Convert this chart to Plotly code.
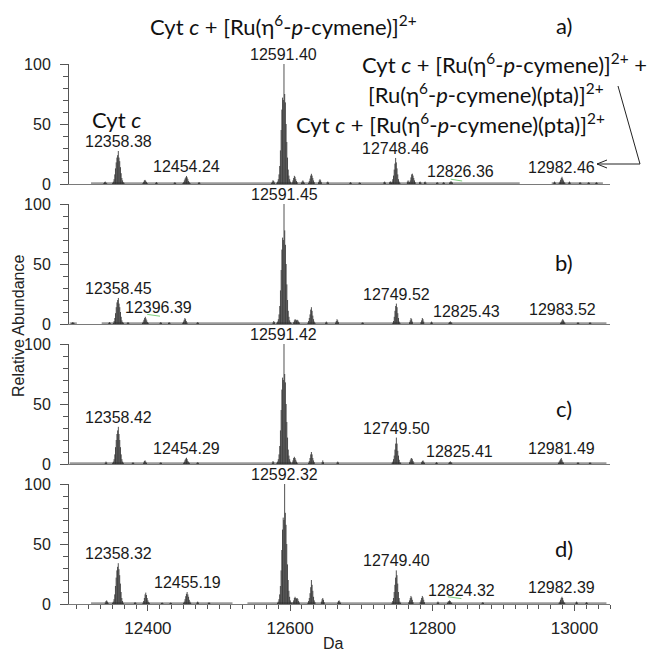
import plotly.graph_objects as go

# ---------------------------------------------------------------------------
# Deconvoluted ESI-MS spectra of cytochrome c incubated with Ru(II) arene
# complexes. Each cluster: (mass of first isotope stick, stick heights); the
# isotope sticks are 1 Da apart.
# ---------------------------------------------------------------------------
ISOTOPE_STEP = 1.0

clusters_a = [
    (12338.0, [0.8, 1.5, 2.0, 1.2, 0.6]),
    (12350.38, [1, 2, 4, 8, 13, 18, 22, 24, 27.5, 22, 19, 14, 9, 5, 3, 1.5, 1]),
    (12393.0, [0.8, 1.8, 3.0, 3.4, 2.6, 1.6, 0.8]),
    (12411.0, [1.0, 1.6, 1.0]),
    (12437.0, [1.0, 1.5, 0.8]),
    (12449.24, [0.8, 1.5, 3, 4.5, 5.5, 6.7, 5.5, 4, 2.5, 1.5, 0.8]),
    (12471.0, [1.0, 1.6, 1.0]),
    (12574.0, [1.0, 2.0, 3.2, 2.5, 1.2]),
    (12581.40, [1, 2, 4, 8, 15, 28, 45, 62, 72, 70, 100, 75, 68, 50, 35, 22, 12, 7, 4, 2, 1]),
    (12603.0, [1.5, 3, 5, 6.8, 6, 4, 2.5, 1.5]),
    (12616.0, [1.2, 2.2, 3.0, 2.0, 1.0]),
    (12626.0, [1, 2.5, 4.5, 7, 8.5, 7, 5, 3, 1.5]),
    (12640.0, [1.5, 3, 4, 3, 1.5]),
    (12652.0, [1.5, 2.0, 1.2]),
    (12684.0, [1.0, 1.5, 1.0]),
    (12697.0, [1.0, 1.3, 0.8]),
    (12732.0, [1.5, 2.0, 1.2]),
    (12740.0, [1.5, 2.2, 1.5]),
    (12742.46, [1, 2, 4, 7, 12, 17, 21.7, 18, 13, 8, 4, 2, 1]),
    (12765.0, [2.0, 3.0, 2.0]),
    (12768.0, [1.5, 3, 5.5, 8, 8.6, 7, 5, 3, 1.5]),
    (12782.0, [1.5, 2.0, 1.2]),
    (12789.0, [1.5, 2.0, 1.2]),
    (12806.0, [1.0, 1.5, 1.0]),
    (12815.0, [1.0, 1.5, 1.0]),
    (12824.36, [1.2, 1.8, 2.3, 1.8, 1.2]),
    (12971.0, [1.2, 2.0, 1.2]),
    (12978.46, [1, 2, 3.5, 5, 6, 4.5, 3, 1.8, 1]),
    (12992.0, [1.2, 2.0, 1.2]),
    (13007.0, [1.0, 1.5, 1.0]),
    (13019.0, [1.0, 1.5, 1.0]),
    (13030.0, [1.0, 1.4, 1.0]),
]

clusters_b = [
    (12293.0, [1.0, 1.4, 1.2, 1.0]),
    (12345.0, [1.0, 1.5, 1.0]),
    (12351.45, [1, 2.5, 5, 9, 14, 18, 20, 21.7, 17, 14, 10, 6, 3, 1.5, 1]),
    (12371.0, [1.0, 1.5, 1.0]),
    (12392.39, [1, 2, 3.5, 5, 6, 4.5, 3, 1.5, 1]),
    (12417.0, [1.0, 1.5, 1.0]),
    (12429.0, [1.0, 1.4, 1.0]),
    (12449.0, [1, 2, 3.5, 5, 4, 2.5, 1.2]),
    (12469.0, [1.0, 1.5, 1.0]),
    (12576.0, [1.2, 2.5, 1.5]),
    (12581.45, [1, 2, 4, 8, 15, 28, 45, 62, 72, 70, 100, 78, 66, 50, 33, 20, 11, 6, 3, 1.5, 1]),
    (12605.0, [1.5, 3, 4, 3.5, 3, 3.5, 3, 2, 1.2]),
    (12625.0, [1, 2.5, 5, 8, 12, 14, 11, 7, 4, 2, 1]),
    (12650.0, [1.2, 2.0, 1.2]),
    (12664.0, [1.2, 2.5, 4, 3, 1.5]),
    (12701.0, [1.0, 1.3, 1.0]),
    (12744.52, [1, 2.5, 6, 11, 15, 17, 14, 9, 5, 2, 1]),
    (12768.0, [1.5, 3, 5, 4, 2]),
    (12784.0, [1.5, 3, 5, 4, 2]),
    (12798.0, [1.2, 2.0, 1.2]),
    (12823.43, [1, 1.6, 2.2, 1.6, 1]),
    (12980.52, [1, 2, 3, 4, 3, 2, 1]),
    (13004.0, [1.0, 1.4, 1.0]),
    (13021.0, [1.0, 1.4, 1.0]),
]

clusters_c = [
    (12340.0, [1.0, 2.0, 1.2]),
    (12350.42, [1, 2, 4, 8, 14, 20, 25, 28, 31, 25, 20, 14, 8, 4, 2, 1]),
    (12378.0, [1.0, 1.3, 1.0]),
    (12394.0, [1.2, 2.5, 3, 2, 1]),
    (12417.0, [1.0, 1.3, 1.0]),
    (12450.29, [1, 2, 3.5, 4.5, 5.2, 4, 2.5, 1.5, 1]),
    (12469.0, [1.0, 1.4, 1.0]),
    (12575.0, [1.2, 2.5, 1.5]),
    (12581.42, [1, 2, 4, 8, 15, 28, 45, 62, 72, 70, 100, 75, 68, 50, 35, 22, 12, 7, 4, 2, 1]),
    (12603.0, [1.5, 3, 5, 6, 5, 3.5, 2, 1]),
    (12626.0, [1, 2.5, 5, 8, 10, 8, 5, 3, 1.5]),
    (12645.0, [1.5, 3.0, 1.5]),
    (12666.0, [1.2, 2.0, 1.2]),
    (12743.50, [1, 2, 4, 7, 12, 17, 22, 17, 11, 7, 3.5, 1.5, 1]),
    (12768.0, [1.5, 3, 4.5, 5, 4, 2.5, 1.2]),
    (12785.0, [1.5, 2.5, 3, 2, 1]),
    (12805.0, [1.0, 1.5, 1.0]),
    (12823.41, [1, 1.6, 2.2, 1.6, 1]),
    (12977.49, [1, 2, 3, 4, 5, 3.5, 2, 1.2]),
    (13004.0, [1.0, 1.4, 1.0]),
    (13021.0, [1.0, 1.3, 1.0]),
]

clusters_d = [
    (12340.0, [1.2, 2.5, 3, 2, 1]),
    (12350.32, [1, 2, 4, 8, 15, 22, 28, 31, 34, 29, 24, 17, 10, 5, 2.5, 1]),
    (12381.0, [1.0, 1.5, 1.0]),
    (12393.0, [1, 2.5, 5, 8, 9.5, 7.5, 5, 3, 1.5, 1]),
    (12419.0, [0.8, 1.2, 0.8]),
    (12431.0, [0.8, 1.2, 0.8]),
    (12450.19, [1, 2, 4, 6.5, 8.5, 10, 8, 6, 3.5, 2, 1]),
    (12469.0, [1.2, 2.0, 1.2]),
    (12485.0, [1.0, 1.3, 1.0]),
    (12582.32, [1, 2, 4, 8, 15, 28, 45, 62, 72, 70, 100, 76, 66, 50, 33, 20, 11, 6, 3, 1.5, 1]),
    (12604.0, [1.5, 3, 5, 6, 5, 4.5, 5, 4, 2.5, 1.2]),
    (12625.0, [1, 2.5, 5, 9, 14, 20, 16, 11, 6, 3, 1.5]),
    (12644.0, [2, 4, 5, 3.5, 1.5]),
    (12667.0, [1.2, 2.5, 3, 2, 1]),
    (12743.40, [1, 2.5, 5, 10, 16, 22, 28, 24, 17, 10, 5, 2, 1]),
    (12767.0, [1.5, 3, 5, 6.7, 5.5, 3.5, 1.5]),
    (12783.0, [1.5, 3, 5, 6.7, 5.5, 3.5, 1.5]),
    (12807.0, [1.2, 2.0, 1.2]),
    (12821.32, [1, 2, 2.5, 3, 2.5, 1.5, 1]),
    (12870.0, [1.0, 1.5, 1.0]),
    (12978.39, [1, 2, 3.5, 5, 6, 5, 3, 1.5, 1]),
    (13002.0, [1.2, 2.0, 1.2]),
    (13016.0, [1.0, 1.5, 1.0]),
]

# Noise floor of each spectrum: (start, end) in Da
noise_a = [(12320, 12923), (12968, 13040)]
noise_b = [(12290, 12300), (12335, 13045)]
noise_c = [(12290, 13045)]
noise_d = [(12320, 12519), (12540, 13045)]
NOISE_LEVEL = 0.7

# Small green markers drawn by the acquisition software: (start, end, level)
green_a = [(12826, 12842, 4)]
green_b = [(12399, 12417, 8)]
green_c = []
green_d = [(12822, 12841, 6)]

# Labelled peak masses (Da)
labels_a = [12358.38, 12454.24, 12591.40, 12748.46, 12826.36, 12982.46]
labels_b = [12358.45, 12396.39, 12591.45, 12749.52, 12825.43, 12983.52]
labels_c = [12358.42, 12454.29, 12591.42, 12749.50, 12825.41, 12981.49]
labels_d = [12358.32, 12455.19, 12592.32, 12749.40, 12824.32, 12982.39]

panel_names = ["a)", "b)", "c)", "d)"]

x_ticks = [12400, 12600, 12800, 13000]
y_ticks = [0, 50, 100]

# ---------------------------------------------------------------------------
# Layout geometry (pixels)
# ---------------------------------------------------------------------------
W, H = 651, 652
ML, MR, MT, MB = 69, 41, 64, 48
PANEL_H, PANEL_GAP = 120, 20
X_RANGE = [12289, 13050]
PLOT_W = W - ML - MR
PLOT_H = H - MT - MB

STICK_COLOR = "#262626"
NOISE_COLOR = "#9a9a9a"
AXIS_COLOR = "#555555"
NUM_FONT = "Liberation Sans, Arial, sans-serif"
TEXT_FONT = "Lato, Noto Sans, sans-serif"
TEXT_SIZE = 22

# label x offsets in pixels (labels nudged clear of neighbouring peaks)
label_xshift = [
    [0, 0, 0, 0, 9, 0],
    [0, 13, 0, 0, 16, 0],
    [0, 0, 0, 0, 9, 0],
    [0, 0, 0, 0, 12, 0],
]


def paper_x(px):
    return (px - ML) / PLOT_W


def paper_y(py):
    return 1 - (py - MT) / PLOT_H


def sticks(clusters):
    xs, ys = [], []
    for start, heights in clusters:
        for i, h in enumerate(heights):
            m = start + i * ISOTOPE_STEP
            xs += [m, m, None]
            ys += [0, h, None]
    return xs, ys


def apex(clusters, mass):
    for start, heights in clusters:
        for i, h in enumerate(heights):
            if abs(start + i * ISOTOPE_STEP - mass) < 1e-6:
                return h
    return 0


fig = go.Figure()

all_clusters = [clusters_a, clusters_b, clusters_c, clusters_d]
all_noise = [noise_a, noise_b, noise_c, noise_d]
all_green = [green_a, green_b, green_c, green_d]
all_labels = [labels_a, labels_b, labels_c, labels_d]

annotations = []
layout_axes = {}

for k in range(4):
    suffix = "" if k == 0 else str(k + 1)
    xref, yref = "x" + suffix, "y" + suffix

    # noise floor
    nx, ny = [], []
    for s, e in all_noise[k]:
        nx += [s, e, None]
        ny += [NOISE_LEVEL, NOISE_LEVEL, None]
    fig.add_trace(go.Scatter(x=nx, y=ny, mode="lines", xaxis=xref, yaxis=yref,
                             line=dict(color=NOISE_COLOR, width=1.6),
                             hoverinfo="skip", showlegend=False))

    # isotope sticks
    sx, sy = sticks(all_clusters[k])
    fig.add_trace(go.Scatter(x=sx, y=sy, mode="lines", xaxis=xref, yaxis=yref,
                             line=dict(color=STICK_COLOR, width=0.8),
                             showlegend=False))

    # green markers
    for s, e, lv in all_green[k]:
        fig.add_trace(go.Scatter(x=[s, e], y=[lv, lv - 1.5], mode="lines",
                                 xaxis=xref, yaxis=yref,
                                 line=dict(color="#7ccf7c", width=1),
                                 hoverinfo="skip", showlegend=False))

    top_px = MT + k * (PANEL_H + PANEL_GAP)
    bottom_px = top_px + PANEL_H
    dom = [paper_y(bottom_px), paper_y(top_px)]

    xa = dict(range=X_RANGE, showgrid=False, zeroline=False, showline=True,
              linecolor="#7a7a7a", linewidth=1, ticks="", showticklabels=False,
              anchor=yref)
    if k > 0:
        xa["matches"] = "x"
    if k == 3:
        xa.update(ticks="outside", ticklen=6, tickwidth=1, tickcolor=AXIS_COLOR,
                  tickvals=x_ticks, ticktext=[str(v) for v in x_ticks],
                  showticklabels=True, ticklabelstandoff=3,
                  tickfont=dict(family=NUM_FONT, size=17, color="#222"),
                  minor=dict(ticks="outside", ticklen=4, tickwidth=1,
                             tickcolor=AXIS_COLOR, tick0=12400, dtick=100 / 6))
    ya = dict(range=[0, 100], domain=dom, showgrid=False, zeroline=False,
              showline=True, linecolor=AXIS_COLOR, linewidth=1,
              ticks="outside", ticklen=8, tickwidth=1, tickcolor=AXIS_COLOR,
              tickvals=y_ticks, ticklabelstandoff=6,
              tickfont=dict(family=NUM_FONT, size=16, color="#222"),
              minor=dict(ticks="outside", ticklen=5, tickwidth=1,
                         tickcolor=AXIS_COLOR, dtick=10),
              anchor=xref, fixedrange=True)
    layout_axes["xaxis" + suffix] = xa
    layout_axes["yaxis" + suffix] = ya

    # peak mass labels
    for j, m in enumerate(all_labels[k]):
        annotations.append(dict(
            x=m, y=apex(all_clusters[k], m), xref=xref, yref=yref,
            text=f"{m:.2f}", showarrow=False, xanchor="center", yanchor="bottom",
            xshift=label_xshift[k][j], borderpad=0,
            font=dict(family=NUM_FONT, size=16, color="#1a1a1a")))

# panel letters
letter_py = [25, 262, 408, 548]
for k, name in enumerate(panel_names):
    annotations.append(dict(x=paper_x(564), y=paper_y(letter_py[k]), xref="paper",
                            yref="paper", text=name, showarrow=False,
                            xanchor="center", yanchor="middle",
                            font=dict(family=TEXT_FONT, size=TEXT_SIZE, color="#111")))

ETA = "η<sup>6</sup>-<i>p</i>-cymene"
species = [
    (f"Cyt <i>c</i> + [Ru({ETA})]<sup>2+</sup>", 283, 26, "center"),
    (f"Cyt <i>c</i> + [Ru({ETA})]<sup>2+</sup> +", 649, 63, "right"),
    (f"[Ru({ETA})(pta)]<sup>2+</sup>", 366, 93, "left"),
    (f"Cyt <i>c</i> + [Ru({ETA})(pta)]<sup>2+</sup>", 294, 123, "left"),
    ("Cyt <i>c</i>", 90, 119, "left"),
]
for text, px, py, anchor in species:
    annotations.append(dict(x=paper_x(px), y=paper_y(py), xref="paper", yref="paper",
                            text=text, showarrow=False, xanchor=anchor,
                            yanchor="middle",
                            font=dict(family=TEXT_FONT, size=TEXT_SIZE, color="#111")))

# axis titles
annotations.append(dict(x=paper_x(18), y=paper_y(326), xref="paper", yref="paper",
                        text="Relative Abundance", textangle=-90, showarrow=False,
                        xanchor="center", yanchor="middle",
                        font=dict(family=NUM_FONT, size=16, color="#222")))
annotations.append(dict(x=paper_x(333), y=paper_y(643), xref="paper", yref="paper",
                        text="Da", showarrow=False, xanchor="center", yanchor="middle",
                        font=dict(family=NUM_FONT, size=16, color="#222")))

# leader line from the bis-adduct label to its peak, ending in an open arrowhead
line_style = dict(color="#222", width=1)
corner_x, corner_y, tip_x = 640, 164, 597
shapes = [
    dict(type="line", xref="paper", yref="paper", x0=paper_x(618), y0=paper_y(86),
         x1=paper_x(corner_x), y1=paper_y(corner_y), line=line_style),
    dict(type="line", xref="paper", yref="paper", x0=paper_x(corner_x),
         y0=paper_y(corner_y), x1=paper_x(tip_x), y1=paper_y(corner_y),
         line=line_style),
    dict(type="line", xref="paper", yref="paper", x0=paper_x(tip_x),
         y0=paper_y(corner_y), x1=paper_x(tip_x + 10), y1=paper_y(corner_y - 4),
         line=line_style),
    dict(type="line", xref="paper", yref="paper", x0=paper_x(tip_x),
         y0=paper_y(corner_y), x1=paper_x(tip_x + 10), y1=paper_y(corner_y + 4),
         line=line_style),
]

fig.update_layout(
    width=W, height=H,
    margin=dict(l=ML, r=MR, t=MT, b=MB, pad=0),
    paper_bgcolor="white", plot_bgcolor="white",
    annotations=annotations, shapes=shapes,
    showlegend=False,
    **layout_axes,
)

fig.write_html("out.html")
